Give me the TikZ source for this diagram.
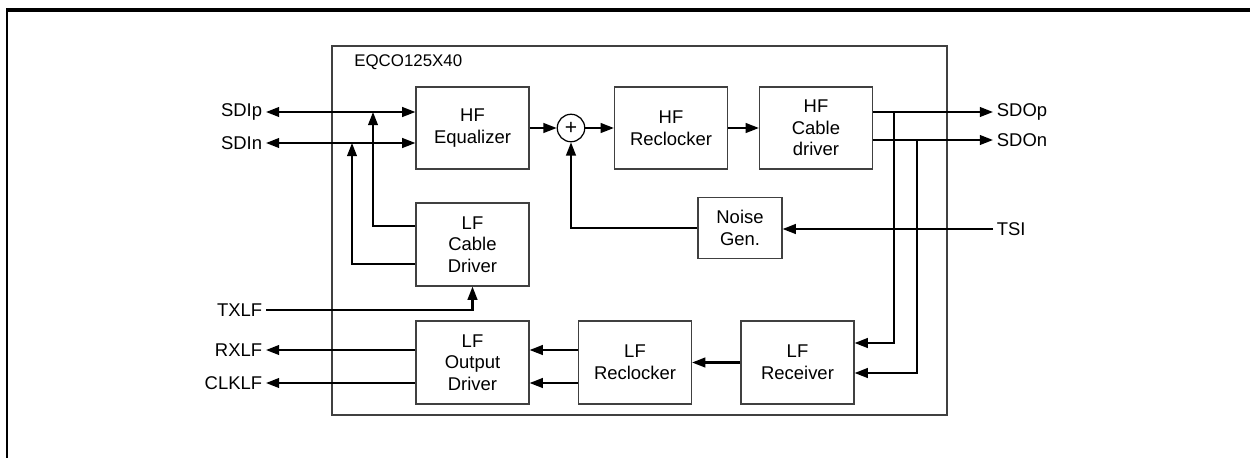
\documentclass[tikz,border=0pt]{standalone}
\usepackage{fontspec}
\setmainfont{Liberation Sans}
\usetikzlibrary{positioning,arrows.meta,calc}
\definecolor{ink}{HTML}{000000}
\definecolor{edge}{HTML}{404040}
\tikzset{
  blk/.style={draw=edge,line width=0.7pt,minimum width=2.26cm,minimum height=1.64cm,
    inner sep=0pt,align=center,font=\fontsize{10.5}{12.3}\selectfont},
  sig/.style={draw=ink,line width=1.15pt,->},
  pin/.style={inner sep=2pt,font=\fontsize{10.5}{12.3}\selectfont},
}
\begin{document}
\begin{tikzpicture}[x=0.02cm,y=-0.02cm,>={Triangle[length=7.5pt,width=5.5pt]}]
      \useasboundingbox (0,0) rectangle (1250,457);
      \draw[line width=1.3pt] (7,470) -- (7,10);
      \draw[line width=1.9pt] (6.4,10) -- (1260,10);
      % chip outline
      \node[draw=edge,line width=0.7pt,minimum width=12.3cm,minimum height=7.38cm] (chip) at (639.5,230.5) {};
      \node[anchor=west,inner sep=0pt,font=\fontsize{9.6}{11}\selectfont] (title) at (354,62) {EQCO125X40};
      % blocks
      \node[blk] (heq) at (472.5,128) {HF\\Equalizer};
      \node[blk] (hfrc) at (671,128) {HF\\Reclocker};
      \node[blk] (hfcd) at (816,128) {HF\\Cable\\driver};
      \node[blk,minimum width=1.68cm,minimum height=1.22cm] (noise) at (740,228) {Noise\\Gen.};
      \node[blk,minimum height=1.66cm] (lfcd) at (472.5,244.5) {LF\\Cable\\Driver};
      \node[blk,minimum height=1.66cm] (lfod) at (472.5,362.5) {LF\\Output\\Driver};
      \node[blk,minimum height=1.66cm] (lfrc) at (635,362.5) {LF\\Reclocker};
      \node[blk,minimum height=1.66cm] (lfrx) at (797.5,362.5) {LF\\Receiver};
      \node[draw=ink,line width=0.7pt,circle,minimum size=0.55cm,inner sep=0pt,font=\fontsize{12}{12}\selectfont] (sum) at (571,128) {+};
      % pins
      \foreach \n/\t/\y in {sdip/SDIp/112,sdin/SDIn/143,txlf/TXLF/310,rxlf/RXLF/350,clklf/CLKLF/383}{
        \node[pin,anchor=east] (\n) at (266,\y) {\t};}
      \foreach \n/\t/\y in {sdop/SDOp/112,sdon/SDOn/140,tsi/TSI/229}{
        \node[pin,anchor=west] (\n) at (993,\y) {\t};}
      \coordinate (jp) at (373,112);
      \coordinate (jn) at (352,143);
      \coordinate (tapp) at (894,112);
      \coordinate (tapn) at (917,140);
      % HF path
      \draw[sig,<->] (sdip.east) -- (sdip.east -| heq.west);
      \draw[sig,<->] (sdin.east) -- (sdin.east -| heq.west);
      \draw[sig] (heq) -- (sum);
      \draw[sig] (sum) -- (hfrc);
      \draw[sig] (hfrc) -- (hfcd);
      \draw[sig] (hfcd.east |- sdop.west) -- (sdop.west);
      \draw[sig] (hfcd.east |- sdon.west) -- (sdon.west);
      \draw[sig] (tsi.west) -- (tsi.west -| noise.east);
      \draw[sig] (noise.west) -| (sum.south);
      % LF path
      \draw[sig] ($(lfcd.west)+(0,-18.5)$) -| (jp);
      \draw[sig] ($(lfcd.west)+(0,19.5)$) -| (jn);
      \draw[sig] (txlf.east) -| (lfcd.south);
      \draw[sig] (tapp) |- ($(lfrx.east)+(0,-19.5)$);
      \draw[sig] (tapn) |- ($(lfrx.east)+(0,10.5)$);
      \draw[sig] (lfrx) -- (lfrc);
      \draw[sig] (lfrc.west |- rxlf.east) -- (lfod.east |- rxlf.east);
      \draw[sig] (lfrc.west |- clklf.east) -- (lfod.east |- clklf.east);
      \draw[sig] (lfod.west |- rxlf.east) -- (rxlf.east);
      \draw[sig] (lfod.west |- clklf.east) -- (clklf.east);
    \end{tikzpicture}
\end{document}
